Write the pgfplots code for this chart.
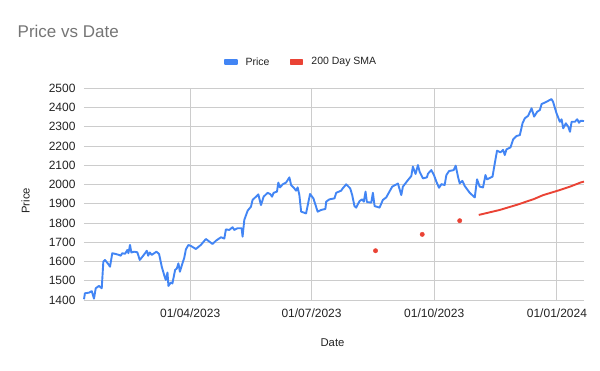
\documentclass[border=0pt]{standalone}
\usepackage{fontspec}
\setmainfont{Liberation Sans}
\usepackage{pgfplots}
\pgfplotsset{compat=1.18}
\definecolor{gblue}{HTML}{4285F4}
\definecolor{gred}{HTML}{EA4335}
\definecolor{ggrid}{HTML}{CCCCCC}
\definecolor{gtitle}{HTML}{757575}
\definecolor{gtext}{HTML}{222222}
\begin{document}
\begin{tikzpicture}[x=1pt,y=1pt]
\useasboundingbox (0,0) rectangle (600,371);
\node[anchor=base west, font=\fontsize{17}{20}\selectfont, text=gtitle, inner sep=0pt] at (17.5,333) {Price vs Date};
\begin{axis}[
  at={(84pt,71pt)}, anchor=south west,
  scale only axis, width=500pt, height=211.7pt,
  xmin=10.4, xmax=385.3, ymin=1400, ymax=2500,
  xtick={90,181,273,365},
  xticklabels={01/04/2023,01/07/2023,01/10/2023,01/01/2024},
  ytick={1400,1500,...,2500},
  axis line style={draw=none},
  tick style={draw=none},
  grid=major,
  major grid style={ggrid, line width=0.9pt},
  major tick length=0pt,
  tick label style={font=\fontsize{12}{14}\selectfont, text=gtext},
  /pgf/number format/assume math mode=true,
  /pgf/number format/set thousands separator={},
  yticklabel style={anchor=east, xshift=-5pt},
  xticklabel style={anchor=center, yshift=-13.7pt},
  xlabel={Date}, ylabel={Price},
  label style={font=\fontsize{11.3}{13}\selectfont, text=gtext},
  xlabel style={at={(axis description cs:0.497,-0.203)}, anchor=center},
  ylabel style={at={(axis description cs:-0.117,0.468)}, anchor=center},
  legend columns=2,
  legend style={at={(axis description cs:0.434,1.124)}, anchor=center, draw=none, fill=none,
    font=\fontsize{10.5}{12}\selectfont, text=gtext,
    /tikz/every odd column/.append style={column sep=6pt},
    /tikz/every even column/.append style={column sep=18pt}},
  legend image code/.code={\fill[#1] (0pt,-2pt) rectangle (12pt,2pt);},
  clip=false,
]
\addplot[gblue, line width=1.9pt, line join=round] coordinates {
(10.4,1404)(11.1,1435)(14.1,1438)(16.2,1446)(17.9,1407)(19.2,1461)(21.6,1473)(23.7,1461)
(24.9,1599)(26.1,1608)(28.6,1587)(29.9,1573)(31.6,1643)(34.2,1639)(36.7,1634)(37.9,1630)
(39.1,1643)(41.2,1640)(42.9,1660)(43.7,1643)(44.9,1686)(45.9,1647)(47.9,1651)(50.4,1648)
(52.2,1608)(54.2,1625)(56.2,1643)(57.5,1656)(58.5,1630)(59.7,1647)(61.2,1634)(63.0,1643)
(64.7,1651)(66.7,1639)(68.7,1573)(70.5,1530)(71.7,1504)(73.0,1543)(73.7,1473)(75.5,1491)
(76.7,1486)(78.7,1556)(80.0,1564)(81.2,1590)(82.3,1547)(84.2,1590)(85.5,1617)(86.8,1663)
(88.7,1686)(90.5,1681)(94.3,1665)(98.0,1686)(101.8,1717)(103.5,1708)(106.8,1691)(109.3,1708)
(113.1,1726)(115.6,1719)(116.8,1767)(119.3,1764)(121.8,1778)(123.1,1764)(125.5,1773)(128.6,1773)
(129.3,1729)(130.6,1816)(133.1,1864)(135.6,1885)(136.8,1920)(139.4,1937)(141.1,1949)(143.1,1893)
(145.1,1937)(148.1,1957)(150.1,1950)(151.4,1937)(152.6,1957)(155.1,1963)(156.1,2010)(157.4,1985)
(159.4,2001)(161.9,2010)(164.4,2037)(165.7,1997)(168.1,1980)(169.4,1968)(170.6,1985)(171.9,1945)
(173.2,1859)(176.9,1850)(179.9,1951)(182.4,1928)(185.6,1859)(188.2,1868)(191.4,1873)(192.0,1911)
(194.4,1923)(198.2,1928)(199.5,1957)(203.2,1968)(204.4,1980)(207.0,2001)(210.0,1980)(211.5,1945)
(213.2,1888)(214.5,1880)(217.0,1914)(219.0,1923)(220.2,1911)(221.5,1963)(222.5,1909)(225.8,1906)
(227.0,1957)(228.3,1888)(232.0,1880)(234.5,1920)(237.0,1933)(241.5,1989)(245.8,2005)(248.3,1945)
(249.5,1989)(253.3,2023)(255.8,2044)(257.0,2093)(259.0,2055)(260.8,2101)(262.1,2065)(264.5,2032)
(267.5,2037)(268.3,2056)(270.8,2075)(272.8,2049)(274.6,2015)(276.6,1983)(278.4,2002)(280.8,1997)
(282.1,2049)(284.1,2070)(287.6,2075)(289.1,2098)(290.8,2041)(292.1,2006)(294.1,2019)(295.9,1992)
(299.6,1957)(303.4,1933)(305.1,2027)(307.1,1989)(309.6,1985)(311.4,2049)(312.6,2027)(316.7,2041)
(318.4,2110)(320.1,2176)(322.7,2167)(324.6,2180)(325.9,2153)(327.2,2183)(330.2,2193)(332.2,2235)
(334.7,2252)(337.2,2257)(339.2,2318)(340.9,2344)(343.4,2357)(346.0,2396)(347.9,2353)(350.2,2378)
(352.2,2387)(353.5,2418)(357.2,2430)(360.9,2444)(362.1,2430)(364.7,2370)(367.2,2326)(368.5,2339)
(369.7,2292)(371.7,2318)(373.5,2300)(374.8,2274)(376.0,2326)(378.5,2326)(380.2,2339)(381.5,2321)
(382.8,2331)(385.3,2330)
};
\addlegendentry{Price}
\addplot[gred, line width=1.9pt, line join=round] coordinates {
(306.4,1842)(322.2,1868)(334.7,1894)(347.2,1923)(354.7,1945)(364.7,1966)(374.8,1989)(383.0,2011)(385.3,2015)
};
\addlegendentry{200 Day SMA}
\addplot[gred, only marks, mark=*, mark size=2.2pt, forget plot] coordinates {
(229.0,1656)(264.0,1741)(292.1,1812)
};
\end{axis}
\end{tikzpicture}
\end{document}
